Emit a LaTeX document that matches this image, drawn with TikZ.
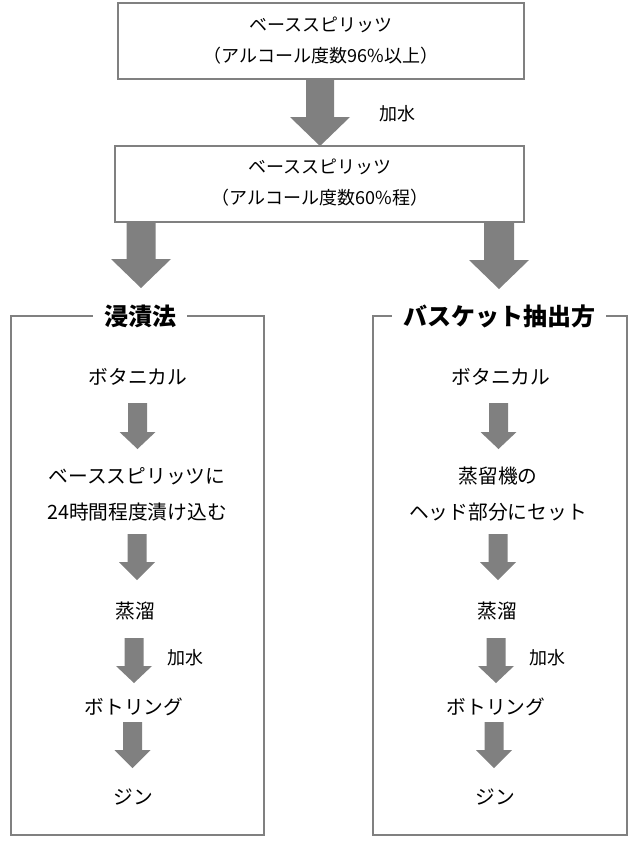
\documentclass[tikz,border=0pt]{standalone}
\usepackage{fontspec}
\setmainfont{Noto Sans CJK JP}
\tikzset{
  frameline/.style={draw=black!50, line width=1.5pt},
  arrowfill/.style={fill=black!50},
  lbl/.style={inner sep=0pt, font=\fontsize{13.5}{23.25}\selectfont, align=center},
  stepbox/.style={inner sep=0pt, font=\fontsize{14.8}{27}\selectfont, align=center},
  grouptitle/.style={fill=white, inner xsep=8pt, inner ysep=2pt, font=\fontsize{18}{20}\selectfont\bfseries}
}
\newcommand\fatarrow[6]{%
  \fill[arrowfill] ({#1-#5},#2) -- ({#1+#5},#2) -- ({#1+#5},#3) -- ({#1+#6},#3) -- (#1,#4) -- ({#1-#6},#3) -- ({#1-#5},#3) -- cycle;}
\begin{document}
\begin{tikzpicture}[x=0.75pt, y=-0.75pt]
\useasboundingbox[fill=white] (0,0) rectangle (636,843);
% top boxes
\draw[frameline] (118,3) rectangle (524,79);
\node[lbl] (top) at (321,41) {ベーススピリッツ\\（アルコール度数96\%以上）};
\draw[frameline] (115,146) rectangle (524,222);
\node[lbl] (mid) at (320,183) {ベーススピリッツ\\（アルコール度数60\%程）};
\fatarrow{320}{79}{117}{146}{14}{30}
\node[lbl] (addw) at (397,114) {加水};
% big arrows to groups
\fatarrow{141}{222}{259}{288}{14.5}{30}
\fatarrow{499}{222}{260}{289}{15}{30}
% group frames
\draw[frameline] (11,316) rectangle (264,835);
\node[grouptitle] (gL) at (140,316) {浸漬法};
\draw[frameline] (373,316) rectangle (627,835);
\node[grouptitle] (gR) at (499,316) {バスケット抽出方};
% left column
\node[stepbox] (l1) at (138,377) {ボタニカル};
\fatarrow{137.5}{403}{432}{449}{9.5}{18}
\node[stepbox] (l2) at (137,494) {ベーススピリッツに\\24時間程度漬け込む};
\fatarrow{137}{534}{562}{580}{9.5}{18}
\node[stepbox] (l3) at (135,611) {蒸溜};
\fatarrow{134}{638}{666}{683}{9.5}{18}
\node[lbl] (l3w) at (185,658) {加水};
\node[stepbox] (l4) at (134,707) {ボトリング};
\fatarrow{132.5}{722}{750}{768}{9.5}{18}
\node[stepbox] (l5) at (133,797) {ジン};
% right column
\node[stepbox] (r1) at (501,377) {ボタニカル};
\fatarrow{498.5}{403}{432}{449}{9.5}{18}
\node[stepbox] (r2) at (498,494) {蒸留機の\\ヘッド部分にセット};
\fatarrow{498}{534}{562}{580}{9.5}{18}
\node[stepbox] (r3) at (497,611) {蒸溜};
\fatarrow{496}{638}{666}{683}{9.5}{18}
\node[lbl] (r3w) at (547,658) {加水};
\node[stepbox] (r4) at (496,707) {ボトリング};
\fatarrow{494}{722}{750}{768}{9.5}{18}
\node[stepbox] (r5) at (495,797) {ジン};
\end{tikzpicture}
\end{document}
